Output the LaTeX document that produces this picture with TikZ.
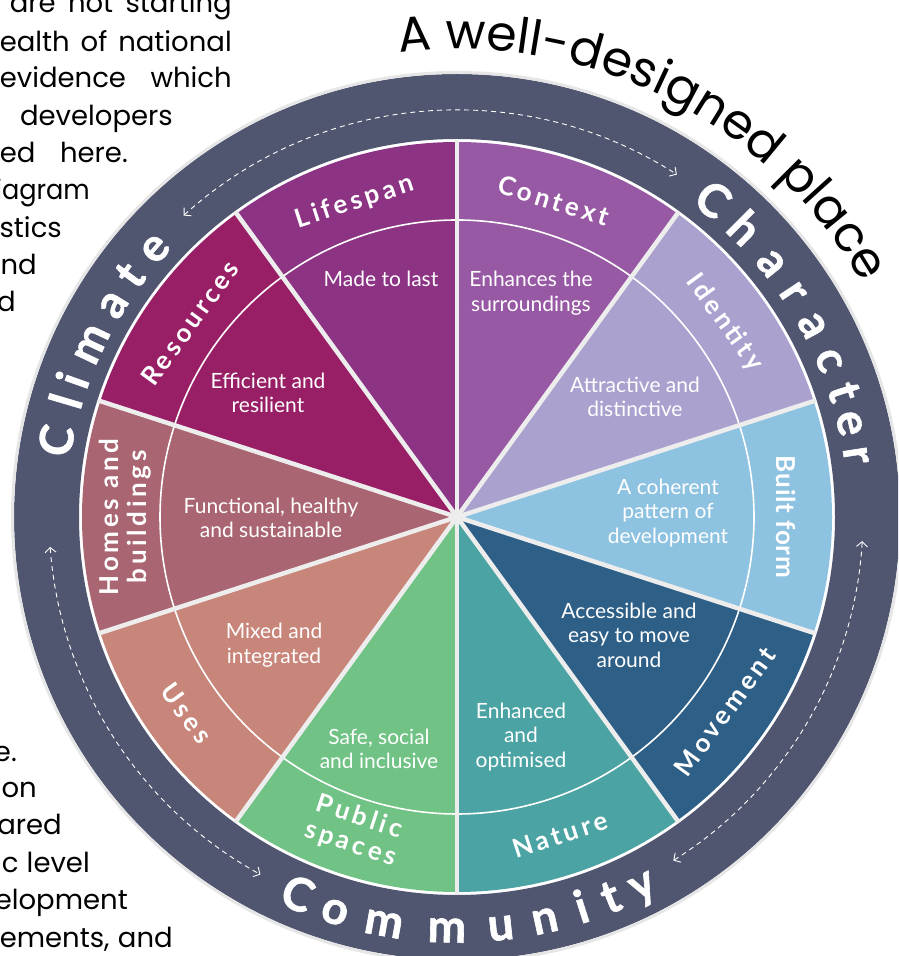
\documentclass[tikz,border=0pt]{standalone}
\usepackage{fontspec}
\setmainfont{Lato}
\newfontfamily\popfont{Poppins}
\newfontfamily\trackfont[LetterSpace=14]{Lato}
\newfontfamily\trackfontB[LetterSpace=3]{Lato}
\newfontfamily\ringfont[BoldFeatures={FakeBold=1.3}]{Lato}
\usetikzlibrary{decorations.text,arrows.meta}
\definecolor{ringc}{HTML}{505570}
\definecolor{ringedge}{HTML}{E6E6E6}
\definecolor{gapc}{HTML}{EDEDED}
\definecolor{cLife}{HTML}{8C3383}
\definecolor{cRes}{HTML}{981F66}
\definecolor{cHome}{HTML}{A96571}
\definecolor{cUses}{HTML}{C8857A}
\definecolor{cPub}{HTML}{71C285}
\definecolor{cNat}{HTML}{4BA3A3}
\definecolor{cMov}{HTML}{2E5F87}
\definecolor{cBuilt}{HTML}{8EC2E1}
\definecolor{cIdent}{HTML}{AAA1CF}
\definecolor{cCont}{HTML}{9859A4}
\begin{document}
\begin{tikzpicture}[x=1pt,y=1pt,
  seglabel/.style={text=white, font=\trackfont\bfseries\fontsize{26}{28}\selectfont, align=center, inner sep=0pt},
  seglabelB/.style={text=white, font=\trackfontB\bfseries\fontsize{26}{28}\selectfont, align=center, inner sep=0pt},
  desc/.style={text=white, font=\fontsize{21}{24.5}\selectfont, align=center, inner sep=0pt},
  ringletter/.style={text=white, font=\ringfont\bfseries\fontsize{46}{46}\selectfont, inner sep=0pt, text height=33pt, text depth=0pt, anchor=center},
  para/.style={font=\popfont\fontsize{27.5}{37}\selectfont, inner sep=0pt, anchor=base east, text=black},
  dasharc/.style={white, line width=0.9pt, dash pattern=on 5pt off 4pt, {Straight Barb[length=5pt,width=11pt]}-{Straight Barb[length=5pt,width=11pt]}},
]
\useasboundingbox (0,0) rectangle (898,956);
\clip (0,0) rectangle (898,956);
\fill[white] (0,0) rectangle (898,956);
\coordinate (c) at (457,439);

% paragraph fragments
\node[para] (p1) at (232,943) {\hbox to 222pt{are\hfill not\hfill starting}};
\node[para] (p2) at (232,904) {\hbox to 232pt{ealth\hfill of\hfill national}};
\node[para] (p3) at (232,868) {\hbox to 232pt{evidence\hfill which}};
\node[para] (p4) at (173,830) {developers};
\node[para] (p5) at (128,793) {\hbox to 128pt{ed\hfill here.}};
\node[para, xscale=0.93] (p6) at (90,756) {iagram};
\node[para] (p7) at (62,718) {stics};
\node[para] (p8) at (37,681) {nd};
\node[para] (p9) at (16,644) {d};
\node[para] (b1) at (17,194) {e.};
\node[para] (b2) at (37,158) {on};
\node[para] (b3) at (62,121) {ared};
\node[para] (b4) at (90,83) {\hbox to 88pt{c\hfill level}};
\node[para] (b5) at (128,46) {elopment};
\node[para] (b6) at (173,9) {\hbox to 173pt{ements,\hfill and}};

% ring
\fill[ringc, even odd rule] (c) circle[radius=443] (c) circle[radius=378];
\draw[ringedge, line width=3pt] (c) circle[radius=444.5];

% segments
\foreach \a/\col in {90/cLife,126/cRes,162/cHome,198/cUses,234/cPub,270/cNat,306/cMov,342/cBuilt,18/cIdent,54/cCont}{
  \fill[\col] (c) -- ([shift={(\a:375)}]c) arc[start angle=\a, end angle=\a+36, radius=375] -- cycle;
  \draw[white, line width=1.6pt] ([shift={(\a:297)}]c) arc[start angle=\a, end angle=\a+36, radius=297];
}
\foreach \a in {18,54,...,342}
  \draw[gapc, line width=4.5pt] (c) -- ([shift={(\a:377)}]c);
\fill[gapc] (c) circle[radius=4];

% segment labels
\node[seglabel, rotate=18] (lifespan) at ([shift={(108:331)}]c) {Lifespan};
\node[seglabel, rotate=-17] (context) at ([shift={(73:331)}]c) {Context};
\node[seglabel, rotate=-54] (identity) at ([shift={(36:331)}]c) {Identity};
\node[seglabelB, rotate=-90] (builtform) at ([shift={(0:329)}]c) {Built form};
\node[seglabel, rotate=54] (movement) at ([shift={(324:331)}]c) {Movement};
\node[seglabel, rotate=18] (nature) at ([shift={(288:334)}]c) {Nature};
\node[seglabel, rotate=-18] (public) at ([shift={(252:330)}]c) {Public\\spaces};
\node[seglabel, rotate=-54] (uses) at ([shift={(216:334)}]c) {Uses};
\node[seglabel, rotate=90] (homes) at ([shift={(180:332)}]c) {Homes and\\buildings};
\node[seglabel, rotate=54] (resources) at ([shift={(144:330)}]c) {Resources};

% descriptions
\node[desc] (d1) at (381,677) {Made to last};
\node[desc] (d2) at (531,663) {Enhances the\\surroundings};
\node[desc] (d3) at (635,559) {Attractive and\\distinctive};
\node[desc] (d4) at (668,443) {A coherent\\pattern of\\development};
\node[desc] (d5) at (629,321) {Accessible and\\easy to move\\around};
\node[desc] (d6) at (521,219) {Enhanced\\and\\optimised};
\node[desc] (d7) at (379,207) {Safe, social\\and inclusive};
\node[desc] (d8) at (274,311) {Mixed and\\integrated};
\node[desc] (d9) at (271,438) {Functional, healthy\\and sustainable};
\node[desc] (d10) at (268,563) {Efficient and\\resilient};

% ring words
\foreach \ch/\ang [count=\i] in {C/169.2,l/163.5,i/160.4,m/154.7,a/148.3,t/143.5,e/138.4}
  \node[ringletter, rotate=\ang-90] (clim\i) at ([shift={(\ang:408)}]c) {\ch};
\foreach \ch/\ang [count=\i] in {C/51.1,h/45.1,a/38.9,r/33.7,a/28.3,c/22.8,t/17.9,e/13.4,r/8.8}
  \node[ringletter, rotate=\ang-90] (char\i) at ([shift={(\ang:408)}]c) {\ch};
\foreach \ch/\ang [count=\i] in {C/247.1,o/252.8,m/259.8,m/268.6,u/276.1,n/282.3,i/287.7,t/292.0,y/296.7}
  \node[ringletter, rotate=\ang+90] (comm\i) at ([shift={(\ang:409)}]c) {\ch};

% dashed arrows in ring
\coordinate (ta) at ([shift={(132.2:407)}]c);
\coordinate (la) at ([shift={(184.2:408)}]c);
\coordinate (ra) at ([shift={(302.2:406)}]c);
\draw[dasharc] (ta) arc[start angle=132.2, end angle=57.3, radius=407];
\draw[dasharc] (la) arc[start angle=184.2, end angle=241.2, radius=408];
\draw[dasharc] (ra) arc[start angle=302.2, end angle=356.6, radius=406];

% title
\coordinate (ts) at ([shift={(112:468)}]c);
\path[decorate, decoration={text along path, text={|\popfont\fontsize{49}{49}\selectfont|A well-designed place}, text align=center}] (ts) arc[start angle=112, end angle=15, radius=468];
\end{tikzpicture}
\end{document}
